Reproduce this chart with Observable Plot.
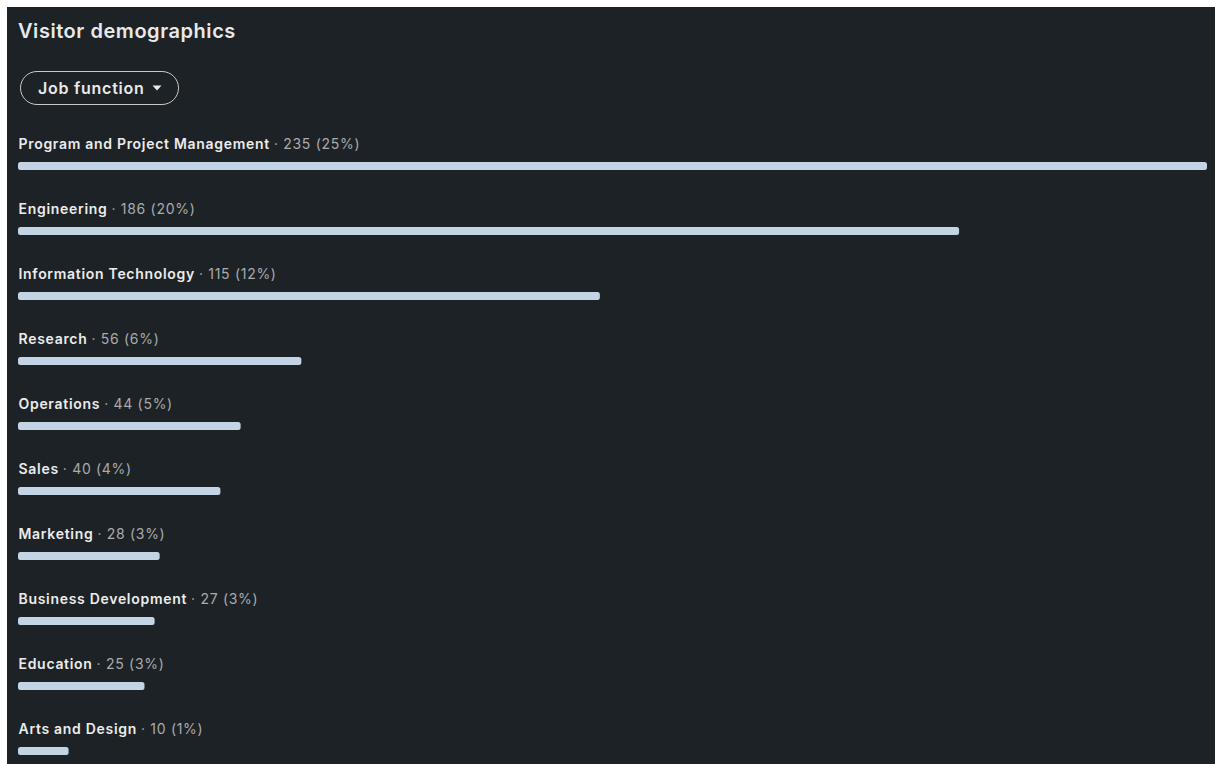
<!DOCTYPE html>
<html>
<head>
<meta charset="utf-8">
<script src="https://cdn.jsdelivr.net/npm/d3@7"></script>
<script src="https://cdn.jsdelivr.net/npm/@observablehq/plot@0.6"></script>
<style>
  html, body { margin: 0; padding: 0; background: #ffffff; overflow: hidden; }
  #panel {
    position: absolute; left: 7px; top: 7px; width: 1208px; height: 757px;
    background: #1d2226; font-family: Inter, "Noto Sans", sans-serif; overflow: hidden;
  }
  #title {
    position: absolute; left: 11px; top: 12px; margin: 0;
    font-size: 20px; font-weight: 600; color: #e9e9e9; letter-spacing: 0.55px;
  }
  #btn {
    position: absolute; left: 13px; top: 64px; width: 157px; height: 32px;
    border: 1px solid #c9c9c9; border-radius: 17px; box-sizing: content-box;
    color: #e9e9e9; font-size: 16px; font-weight: 600; letter-spacing: 0.75px;
    display: flex; align-items: center; padding-left: 0;
  }
  #btn span.lbl { margin-left: 17px; }
  #btn svg { margin-left: 7px; }
  #chart { position: absolute; left: 0; top: 119px; }
</style>
</head>
<body>
<div id="panel">
  <div id="title">Visitor demographics</div>
  <div id="btn"><span class="lbl">Job function</span><svg width="10" height="6" viewBox="0 0 10 6"><path d="M0.5 0.5 L9.5 0.5 L5 5.5 Z" fill="#e9e9e9"/></svg></div>
  <div id="chart"></div>
</div>
<script>
const categories = [
  "Program and Project Management",
  "Engineering",
  "Information Technology",
  "Research",
  "Operations",
  "Sales",
  "Marketing",
  "Business Development",
  "Education",
  "Arts and Design"
];
const counts = [235, 186, 115, 56, 44, 40, 28, 27, 25, 10];
const percents = [25, 20, 12, 6, 5, 4, 3, 3, 3, 1];

const letterSpacing = 0.7;
const nameFont = "600 14px Inter";
const canvas = document.createElement("canvas");
const ctx = canvas.getContext("2d");
ctx.font = nameFont;

const data = categories.map((name, i) => ({
  name,
  count: counts[i],
  pct: percents[i],
  valueText: `· ${counts[i]} (${percents[i]}%)`,
  nameWidth: ctx.measureText(name).width + name.length * letterSpacing
}));

const rowH = 65;
const chart = Plot.plot({
  width: 1208,
  height: rowH * categories.length,
  marginLeft: 11,
  marginRight: 8,
  marginTop: 0,
  marginBottom: 0,
  style: { background: "transparent", overflow: "visible", letterSpacing: letterSpacing + "px" },
  x: { domain: [0, 235], axis: null },
  y: { domain: categories, axis: null, padding: 0 },
  marks: [
    Plot.barX(data, {
      x: "count", y: "name",
      fill: "#c3d4e5",
      insetTop: 36, insetBottom: 21,
      rx: 2.5
    }),
    Plot.text(data, {
      x: 0, y: "name", text: "name",
      textAnchor: "start", dy: -14.5,
      fill: "#ececec", fontSize: 14, fontWeight: 600,
      fontFamily: "Inter"
    }),
    ...data.map(d => Plot.text([d], {
      x: 0, y: "name", text: "valueText",
      textAnchor: "start", dy: -14.5, dx: d.nameWidth + 4,
      fill: "#a9abad", fontSize: 14, fontWeight: 400,
      fontFamily: "Inter"
    }))
  ]
});
document.getElementById("chart").appendChild(chart);
</script>
</body>
</html>
